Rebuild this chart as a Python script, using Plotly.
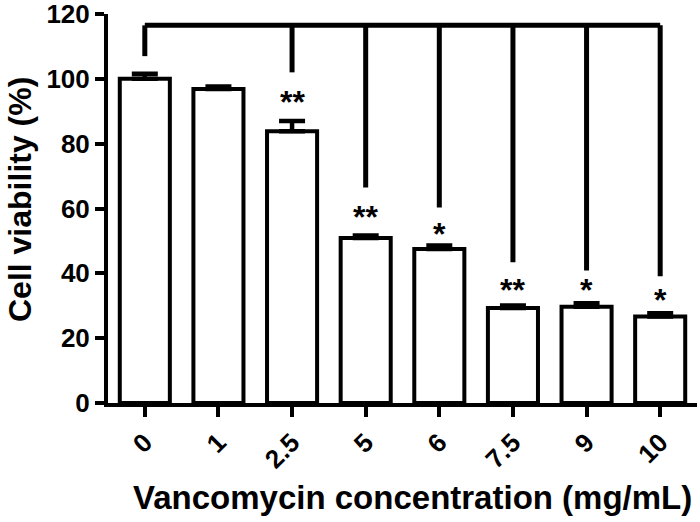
import plotly.graph_objects as go

categories = ["0", "1", "2.5", "5", "6", "7.5", "9", "10"]
viability = [100.0, 96.9, 83.8, 50.9, 47.5, 29.3, 29.7, 26.7]
sem = [1.6, 0.7, 3.2, 0.8, 1.1, 0.8, 1.1, 1.0]

# significance brackets: index of compared bar, lower end of its drop line
bracket_top = 116.5
drop_idx = [0, 2, 3, 4, 5, 6, 7]
drop_end = [107, 102, 66.5, 60.3, 43.4, 40.9, 39.1]
star_idx = [2, 3, 4, 5, 6, 7]
star_text = ["**", "**", "*", "**", "*", "*"]
star_y = [93, 57.5, 52.2, 35, 34.8, 31.8]

xs = list(range(len(categories)))
FONT = "Liberation Sans, Arial, sans-serif"

fig = go.Figure()
fig.add_trace(go.Bar(
    x=xs, y=viability, width=0.68,
    marker=dict(color="white", line=dict(color="black", width=4)),
    error_y=dict(type="data", array=sem, arrayminus=[0] * len(sem), symmetric=False,
                 thickness=4.5, width=13, color="black"),
    showlegend=False, hoverinfo="skip",
))

# horizontal bracket line
fig.add_trace(go.Scatter(x=[drop_idx[0], drop_idx[-1]], y=[bracket_top, bracket_top],
                         mode="lines", line=dict(color="black", width=5),
                         showlegend=False, hoverinfo="skip"))
for i, e in zip(drop_idx, drop_end):
    fig.add_trace(go.Scatter(x=[i, i], y=[bracket_top, e], mode="lines",
                             line=dict(color="black", width=5),
                             showlegend=False, hoverinfo="skip"))

ann = []
for i, t, yv in zip(star_idx, star_text, star_y):
    ann.append(dict(x=i, y=yv, xref="x", yref="y", text=t, showarrow=False,
                    xanchor="center", yanchor="middle",
                    font=dict(family=FONT, size=32, color="black", weight="bold")))

ann.append(dict(x=412, y=497, xref="paper", yref="paper",
                text="Vancomycin concentration (mg/mL)",
                showarrow=False, xanchor="center", yanchor="middle",
                font=dict(family=FONT, size=33, color="black", weight="bold")))
ann.append(dict(x=20, y=200, xref="paper", yref="paper", text="Cell viability (%)",
                textangle=-90, showarrow=False, xanchor="center", yanchor="middle",
                font=dict(family=FONT, size=32, color="black", weight="bold")))

W, H = 700, 522
ml, mr, mt, mb = 108, 3, 14, 119
pw, ph = W - ml - mr, H - mt - mb
for a in ann[-2:]:
    a["x"] = (a["x"] - ml) / pw
    a["y"] = (H - mb - a["y"]) / ph

fig.update_layout(
    width=W, height=H,
    margin=dict(l=ml, r=mr, t=mt, b=mb, autoexpand=False),
    plot_bgcolor="white", paper_bgcolor="white",
    annotations=ann,
    xaxis=dict(range=[-0.5, 7.5], tickvals=xs, ticktext=categories, tickangle=-45,
               showline=True, linecolor="black", linewidth=4, showgrid=False, zeroline=False,
               ticks="outside", ticklen=10, tickwidth=3.5, tickcolor="black",
               automargin=False, ticklabelstandoff=0, ticklabeloverflow="allow",
               tickfont=dict(family=FONT, size=26, color="black", weight="bold")),
    yaxis=dict(range=[0, 120], tickvals=[0, 20, 40, 60, 80, 100, 120],
               showline=True, linecolor="black", linewidth=4, showgrid=False, zeroline=False,
               ticks="outside", ticklen=9, tickwidth=3.5, tickcolor="black",
               automargin=False, ticklabeloverflow="allow",
               tickfont=dict(family=FONT, size=26, color="black", weight="bold")),
)
fig.update_xaxes(layer="above traces")

# remove the browser's default 8px body margin so the figure starts at the page corner
fig.write_html("out.html", config={"displayModeBar": False},
               post_script="document.body.style.margin='0px';")
